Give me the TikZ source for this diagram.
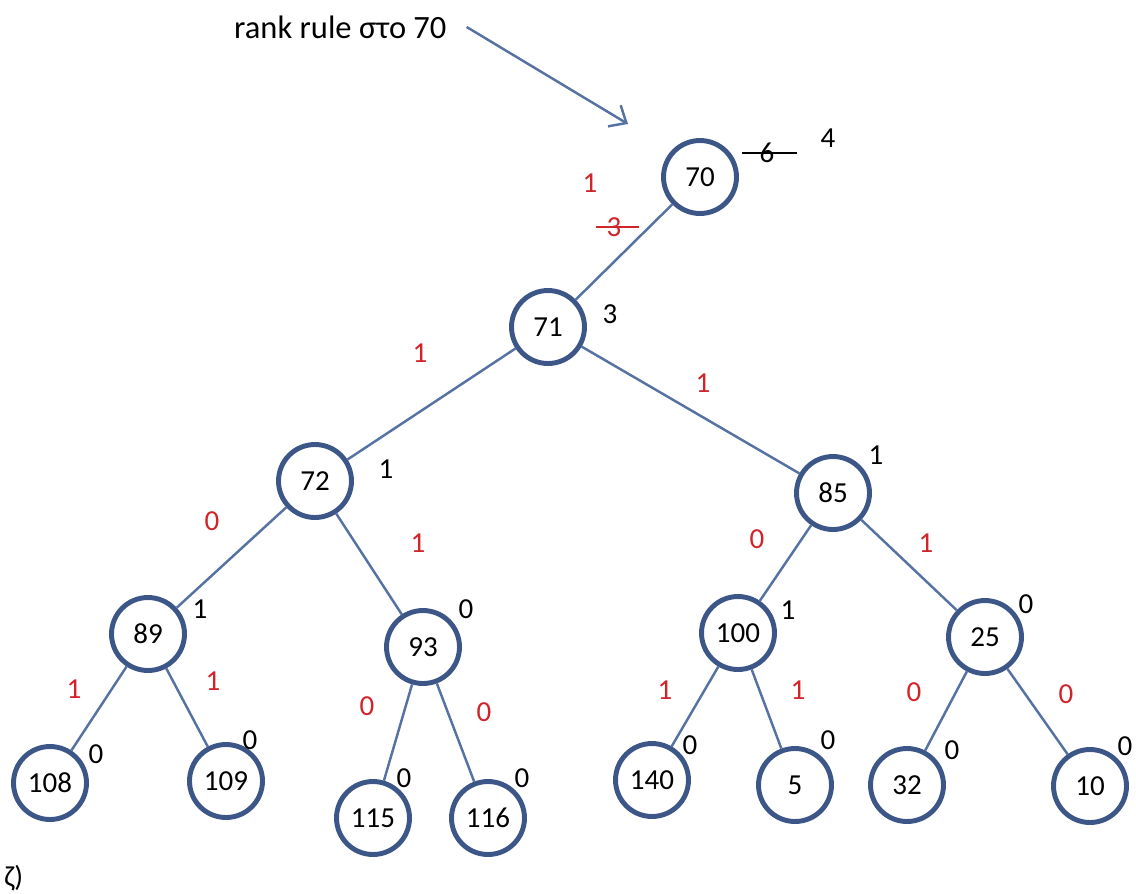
\documentclass[tikz,border=0pt]{standalone}
\usepackage{fontspec}
\setmainfont{Carlito}
\usetikzlibrary{arrows.meta}
\definecolor{ringblue}{RGB}{60,86,136}
\definecolor{edgeblue}{RGB}{86,114,163}
\definecolor{bitred}{RGB}{210,35,42}

\begin{document}
\begin{tikzpicture}[x=0.02cm,y=-0.02cm,
    vtx/.style={circle,draw=ringblue,line width=2.8pt,fill=white,minimum size=1.46cm,
                inner sep=0pt,font=\fontsize{16.5}{20}\selectfont},
    rk/.style={font=\fontsize{16.5}{20}\selectfont,inner sep=0pt},
    bit/.style={rk,text=bitred},
    link/.style={draw=edgeblue,line width=1.4pt}]
    \useasboundingbox (0,0) rectangle (1136,893);

    % title and arrow
    \node[anchor=west,font=\fontsize{18.5}{22}\selectfont] (title) at (228,27) {rank rule στο 70};
    \coordinate (tip) at (628,124);
    \draw[link,-{Straight Barb[length=8pt,width=14pt]}] ([xshift=8pt]title.east) -- (tip);

    % vertices
    \node[vtx] (n70) at (700,177) {70};
    \node[vtx] (n71) at (548,327) {71};
    \node[vtx] (n72) at (315,481) {72};
    \node[vtx] (n85) at (833,493) {85};
    \node[vtx] (n89) at (148,634) {89};
    \node[vtx] (n93) at (423,647) {93};
    \node[vtx] (n100) at (738,633) {100};
    \node[vtx] (n25) at (985,637) {25};
    \node[vtx] (n108) at (50,783) {108};
    \node[vtx] (n109) at (226,781) {109};
    \node[vtx] (n115) at (373,818) {115};
    \node[vtx] (n116) at (488,818) {116};
    \node[vtx] (n140) at (652,780) {140};
    \node[vtx] (n5) at (795,785) {5};
    \node[vtx] (n32) at (907,785) {32};
    \node[vtx] (n10) at (1090,786) {10};

    % links
    \draw[link] (n70) -- (n71);
    \draw[link] (n71) -- (n72);
    \draw[link] (n71) -- (n85);
    \draw[link] (n72) -- (n89);
    \draw[link] (n72) -- (n93);
    \draw[link] (n85) -- (n100);
    \draw[link] (n85) -- (n25);
    \draw[link] (n89) -- (n108);
    \draw[link] (n89) -- (n109);
    \draw[link] (n93) -- (n115);
    \draw[link] (n93) -- (n116);
    \draw[link] (n100) -- (n140);
    \draw[link] (n100) -- (n5);
    \draw[link] (n25) -- (n32);
    \draw[link] (n25) -- (n10);

    % ranks
    \node[rk] (r70old) at (767,153) {6};
    \draw[line width=0.8pt] ([xshift=-14pt]r70old.center) -- ([xshift=17pt]r70old.center);
    \node[rk] (r70) at (828,138) {4};
    \node[rk] (r71) at (610,314) {3};
    \node[rk] (r72) at (386,469) {1};
    \node[rk] (r85) at (876,455) {1};
    \node[rk] (r89) at (200,609) {1};
    \node[rk] (r93) at (466,609) {0};
    \node[rk] (r100) at (788,610) {1};
    \node[rk] (r25) at (1026,604) {0};
    \node[rk] (r108) at (96,754) {0};
    \node[rk] (r109) at (250,740) {0};
    \node[rk] (r115) at (404,778) {0};
    \node[rk] (r116) at (522,778) {0};
    \node[rk] (r140) at (690,745) {0};
    \node[rk] (r5) at (828,740) {0};
    \node[rk] (r32) at (952,750) {0};
    \node[rk] (r10) at (1125,746) {0};

    % bits on the links
    \node[bit] (b70) at (590,183) {1};
    \node[bit] (b70old) at (614,227) {3};
    \draw[bitred,line width=0.8pt] ([xshift=-10pt]b70old.center) -- ([xshift=14pt]b70old.center);
    \node[bit] (b72) at (420,353) {1};
    \node[bit] (b85) at (703,383) {1};
    \node[bit] (b89) at (212,521) {0};
    \node[bit] (b93) at (418,543) {1};
    \node[bit] (b100) at (757,539) {0};
    \node[bit] (b25) at (926,543) {1};
    \node[bit] (b108) at (74,689) {1};
    \node[bit] (b109) at (213,681) {1};
    \node[bit] (b115) at (367,706) {0};
    \node[bit] (b116) at (484,712) {0};
    \node[bit] (b140) at (665,690) {1};
    \node[bit] (b5) at (798,690) {1};
    \node[bit] (b32) at (914,692) {0};
    \node[bit] (b10) at (1066,694) {0};

    \node[rk,anchor=west] (tag) at (4,878) {ζ)};
\end{tikzpicture}
\end{document}
